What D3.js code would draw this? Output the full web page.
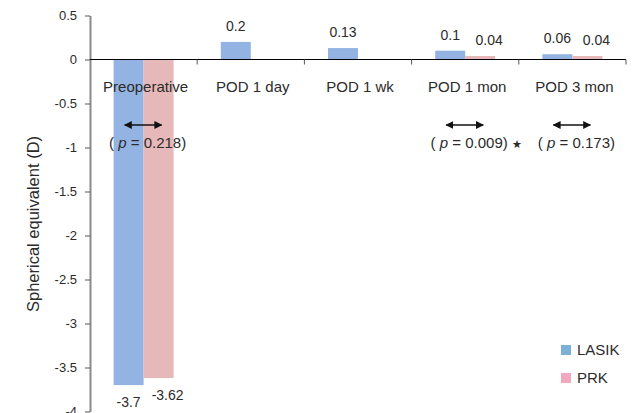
<!DOCTYPE html>
<html>
<head>
<meta charset="utf-8">
<script src="https://cdnjs.cloudflare.com/ajax/libs/d3/7.8.5/d3.min.js"></script>
<style>
  body { margin: 0; background: #fff; }
  svg { display: block; font-family: "Liberation Sans", Arial, sans-serif; }
</style>
</head>
<body>
<svg id="chart" width="636" height="413"></svg>
<script>
// data
var categories = ["Preoperative", "POD 1 day", "POD 1 wk", "POD 1 mon", "POD 3 mon"];
var groups = ["LASIK", "PRK"];
var lasik = [-3.7, 0.2, 0.13, 0.1, 0.06];
var prk = [-3.62, null, null, 0.04, 0.04];
var yTicks = [0.5, 0, -0.5, -1, -1.5, -2, -2.5, -3, -3.5, -4];
var pCats = ["Preoperative", "POD 1 mon", "POD 3 mon"];
var pValues = ["0.218", "0.009", "0.173"];
var pStars = [false, true, false];

var colors = {LASIK: "#93b3e3", PRK: "#e7b8b9"};
var legendColors = {LASIK: "#7bb1d5", PRK: "#f0a9bf"};

var svg = d3.select("#chart");

var x = d3.scaleBand().domain(categories).range([90, 626]).padding(0);
var barW = 30;
var xSub = d3.scaleBand().domain(groups).range([0, barW * 2]);
var inset = (x.bandwidth() - barW * 2) / 2;
var y = d3.scaleLinear().domain([-4, 0.5]).range([411.5, 15.5]);

// rows: one per bar
var rows = [];
categories.forEach(function(c, i) {
    if (lasik[i] != null) rows.push({cat: c, g: "LASIK", v: lasik[i]});
    if (prk[i] != null) rows.push({cat: c, g: "PRK", v: prk[i]});
});

function barX(d) { return x(d.cat) + inset + xSub(d.g); }

svg.append("g").selectAll("rect")
    .data(rows)
    .enter().append("rect")
    .attr("x", barX)
    .attr("width", barW)
    .attr("y", function(d) { return y(Math.max(0, d.v)); })
    .attr("height", function(d) { return Math.abs(y(d.v) - y(0)); })
    .attr("fill", function(d) { return colors[d.g]; });

// value labels
svg.append("g").selectAll("text")
    .data(rows)
    .enter().append("text")
    .attr("x", function(d) { return barX(d) + barW / 2 + (d.g === "PRK" ? 9 : 0); })
    .attr("y", function(d) { return d.v >= 0 ? y(d.v) - 11 : y(d.v) + 22; })
    .attr("text-anchor", "middle")
    .attr("font-size", 14)
    .attr("fill", "#2b2b2b")
    .text(function(d) { return d.v; });

// y axis
var yAxis = svg.append("g")
    .attr("transform", "translate(90,0)")
    .call(d3.axisLeft(y).tickValues(yTicks).tickFormat(function(d) { return d; }).tickSize(5).tickSizeOuter(0).tickPadding(8));
yAxis.select(".domain").attr("stroke", "#8a8a8a").attr("stroke-width", 2);
yAxis.selectAll(".tick line").attr("stroke", "#555");
yAxis.selectAll(".tick text").attr("font-size", 13).attr("fill", "#2b2b2b").attr("font-family", "Liberation Sans, Arial, sans-serif");

// zero line with category ticks
var bounds = categories.map(function(c) { return x(c) + x.bandwidth(); });
svg.append("line")
    .attr("x1", 90).attr("x2", 626)
    .attr("y1", y(0)).attr("y2", y(0))
    .attr("stroke", "#000").attr("stroke-width", 1.2);
svg.append("g").selectAll("line")
    .data(bounds)
    .enter().append("line")
    .attr("x1", function(d) { return d; }).attr("x2", function(d) { return d; })
    .attr("y1", y(0)).attr("y2", y(0) + 5)
    .attr("stroke", "#555");

// category labels
svg.append("g").selectAll("text")
    .data(categories)
    .enter().append("text")
    .attr("x", function(c) { return x(c) + x.bandwidth() / 2 + 2; })
    .attr("y", 92)
    .attr("text-anchor", "middle")
    .attr("font-size", 15)
    .attr("fill", "#2b2b2b")
    .text(function(c) { return c; });

// y title
svg.append("text")
    .attr("transform", "translate(39,224) rotate(-90)")
    .attr("text-anchor", "middle")
    .attr("font-size", 16.5)
    .attr("fill", "#2b2b2b")
    .text("Spherical equivalent (D)");

// p-value annotations
svg.append("defs").append("marker")
    .attr("id", "head")
    .attr("viewBox", "0 0 10 10")
    .attr("refX", 9).attr("refY", 5)
    .attr("markerWidth", 8).attr("markerHeight", 8)
    .attr("markerUnits", "userSpaceOnUse")
    .attr("orient", "auto-start-reverse")
    .append("path").attr("d", "M0,0L10,5L0,10z").attr("fill", "#111");

var pg = svg.append("g").selectAll("g")
    .data(pCats)
    .enter().append("g")
    .attr("transform", function(c) { return "translate(" + (x(c) + x.bandwidth() / 2) + ",0)"; });

pg.append("line")
    .attr("x1", -19).attr("x2", 18)
    .attr("y1", 125).attr("y2", 125)
    .attr("stroke", "#111").attr("stroke-width", 1.3)
    .attr("marker-start", "url(#head)")
    .attr("marker-end", "url(#head)");

var pt = pg.append("text")
    .attr("x", 4)
    .attr("y", 148)
    .attr("text-anchor", "middle")
    .attr("font-size", 15)
    .attr("fill", "#2b2b2b");
pt.append("tspan").text("( ");
pt.append("tspan").attr("font-style", "italic").text("p");
pt.append("tspan").text(function(c, i) { return " = " + pValues[i] + ")"; });

pg.filter(function(c, i) { return pStars[i]; })
    .append("text")
    .attr("x", 47).attr("y", 148)
    .attr("font-size", 11)
    .attr("fill", "#2b2b2b")
    .text("\u2605");

// legend
var lg = svg.append("g").selectAll("g")
    .data(groups)
    .enter().append("g")
    .attr("transform", function(g, i) { return "translate(561," + (345 + i * 28) + ")"; });
lg.append("rect").attr("width", 10).attr("height", 10)
    .attr("fill", function(g) { return legendColors[g]; });
lg.append("text").attr("x", 16).attr("y", 10)
    .attr("font-size", 15).attr("fill", "#2b2b2b")
    .text(function(g) { return g; });
</script>
</body>
</html>
